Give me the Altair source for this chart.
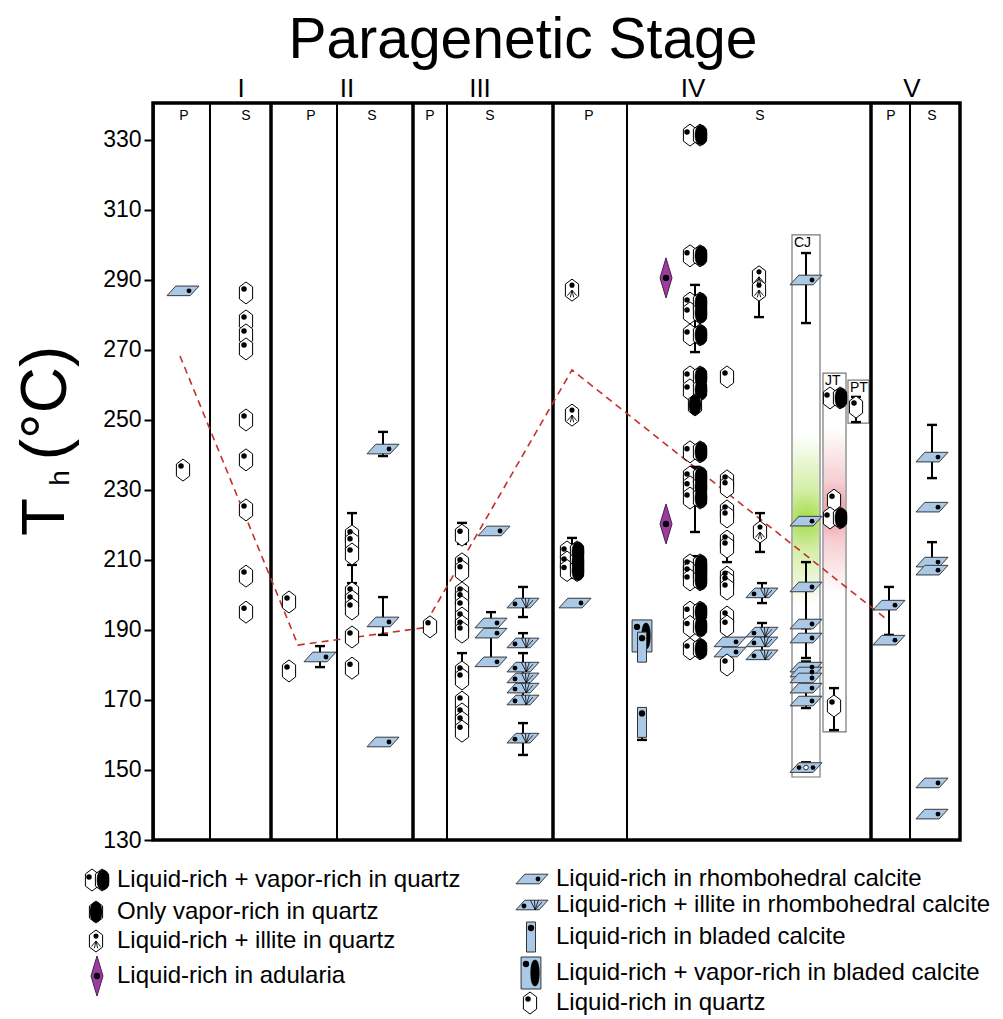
import altair as alt
import pandas as pd

FONT = "Liberation Sans"
X_DOMAIN = [153, 960]
T_DOMAIN = [130, 340.57]

# ---------------- data ----------------
stage_names = ["I", "II", "III", "IV", "V"]
stage_x = [241, 347, 480, 693, 912]
sub_names = ["P", "S", "P", "S", "P", "S", "P", "S", "P", "S"]
sub_x = [184, 246, 311, 372, 430, 490, 589, 760, 891, 932]
stage_bounds = [271, 413, 553, 871]
sub_bounds = [210, 337, 447, 627, 910]
y_ticks = [130, 150, 170, 190, 210, 230, 250, 270, 290, 310, 330]

# Liquid-rich in quartz
hexliq_x = [183] + [246] * 9 + [289] * 2 + [352] * 8 + [430] + [462] * 15 + [727] * 13 + [834, 834, 856]
hexliq_t = [235.7,
            286.3, 278.3, 274.3, 270.3, 250.0, 238.6, 224.3, 205.4, 195.1,
            198.0, 178.3,
            216.9, 214.9, 211.7, 200.6, 198.3, 196.0, 188.0, 179.1,
            190.9,
            217.1, 208.9, 206.9, 200.6, 198.9, 196.6, 193.4, 191.1, 189.4, 178.0, 176.0, 169.4, 166.0, 163.7, 161.1,
            262.3, 232.6, 230.9, 224.0, 222.3, 215.4, 213.7, 205.1, 203.7, 201.7, 193.7, 191.1, 180.0,
            227.1, 168.3, 253.7]

# Liquid-rich + illite in quartz
hexill_x = [572, 572, 759, 759, 760]
hexill_t = [287.1, 251.4, 290.9, 287.1, 218.0]

# Liquid-rich + vapor-rich in quartz
pair_x = [572] * 3 + [695] * 17 + [835, 835]
pair_t = [212.3, 209.4, 207.0,
          331.4, 296.9, 283.4, 280.6, 274.3, 262.3, 258.6, 240.9, 233.7, 230.9, 227.7,
          208.6, 206.6, 204.3, 195.1, 191.0, 184.6,
          256.3, 222.0]

# Only vapor-rich in quartz
vap_x = [695]
vap_t = [254.3]

# Liquid-rich in rhombohedral calcite
par_x = [183, 320, 383, 383, 383, 494, 491, 491, 491, 575, 730, 730] + [806] * 10 + [889, 889] + [932] * 6
par_t = [286.9, 182.3, 241.7, 192.3, 158.0, 218.3, 192.0, 189.1, 180.9, 197.7, 186.6, 183.7,
         290.0, 221.1, 202.3, 191.7, 187.7, 179.4, 178.0, 176.3, 173.4, 169.7,
         197.1, 187.1,
         239.4, 225.1, 209.4, 207.1, 146.3, 137.4]
partri_x = [806]
partri_t = [150.7]

# Liquid-rich + illite in rhombohedral calcite
parill_x = [523] * 7 + [762] * 4
parill_t = [197.7, 186.3, 179.4, 176.3, 173.4, 170.0, 159.1, 200.6, 189.4, 186.6, 182.9]

# Liquid-rich in adularia
adu_x = [666, 666]
adu_t = [290.6, 220.3]

# bladed calcite
bladepair_x = [642]
bladepair_t = [188.3]
bladeliq_x = [642, 642]
bladeliq_t = [185.1, 163.6]

# error bars
err_x = [320, 383, 383, 352, 352, 462, 462, 491, 523, 523, 523, 523, 572, 695, 695, 695, 727,
         759, 760, 762, 762, 806, 806, 806, 806, 806, 834, 856, 889, 932, 932, 642]
err_lo = [179.4, 239.7, 188.6, 216.9, 203.4, 214.6, 176.0, 180.9, 193.7, 186.3, 170.0, 154.3, 204.9,
          269.4, 218.0, 204.3, 209.4, 279.4, 212.3, 197.7, 182.9, 277.7, 192.0, 182.0, 167.7, 149.5,
          161.4, 249.4, 188.6, 233.4, 207.1, 158.6]
err_hi = [185.4, 246.6, 199.4, 223.4, 208.6, 220.6, 183.4, 195.1, 202.3, 189.1, 183.4, 163.4, 216.3,
          288.6, 236.6, 211.1, 213.7, 290.9, 223.4, 203.4, 192.0, 297.7, 209.4, 190.5, 181.0, 152.2,
          173.4, 256.6, 202.3, 248.6, 215.1, 163.6]

# trend of mean Th
trend_x = [180, 298, 423, 572, 890]
trend_t = [268.3, 185.7, 190.6, 264.3, 192.3]

# vein boxes
box_names = ["CJ", "JT", "PT"]
box_x1 = [792, 823, 848]
box_x2 = [820, 846, 869]
box_lo = [148.0, 160.9, 249.1]
box_hi = [302.9, 263.4, 261.4]

# legend
legL_labels = ["Liquid-rich + vapor-rich in quartz", "Only vapor-rich in quartz",
               "Liquid-rich + illite in quartz", "Liquid-rich in adularia"]
legR_labels = ["Liquid-rich in rhombohedral calcite", "Liquid-rich + illite in rhombohedral calcite",
               "Liquid-rich in bladed calcite", "Liquid-rich + vapor-rich in bladed calcite",
               "Liquid-rich  in quartz"]


# ---------------- layout helpers ----------------
def ty(py):
    """page pixel row -> temperature scale value (for the legend rows)"""
    return 130 + (840 - py) / 3.5


legL_rows = [ty(v) for v in [880, 912, 941, 976]]
legR_rows = [ty(v) for v in [879, 905, 937, 973, 1003]]
LEG_L_SYM, LEG_L_TXT = 97, 117
LEG_R_SYM, LEG_R_TXT = 532, 556

X = alt.X("x:Q", scale=alt.Scale(domain=X_DOMAIN, nice=False, zero=False), axis=None)
Y = alt.Y("t:Q", scale=alt.Scale(domain=T_DOMAIN, nice=False, zero=False),
          axis=alt.Axis(values=y_ticks, title=None, grid=False, labelFontSize=23, labelFont=FONT,
                        labelColor="black", tickColor="black", tickSize=9, tickWidth=2,
                        domainColor="black", domainWidth=2.5, labelPadding=3))


def df_xy(xs, ts):
    return pd.DataFrame({"x": xs, "t": ts})


def sym(df, shape, size, fill="white", stroke="black", sw=1.0, dx=0, dy=0, filled=True):
    kw = dict(shape=shape, size=size, strokeWidth=sw, xOffset=dx, yOffset=dy, opacity=1, clip=False)
    if filled:
        kw.update(filled=True, fill=fill)
        if stroke:
            kw.update(stroke=stroke)
        else:
            kw.update(strokeWidth=0)
    else:
        kw.update(filled=False, stroke=stroke)
    return alt.Chart(df).mark_point(**kw).encode(x=X, y=Y)


HEX = "M0,-1L0.6,-0.55L0.6,0.55L0,1L-0.6,0.55L-0.6,-0.55Z"
ELL = "M0,-1C0.45,-1 0.6,-0.5 0.6,0C0.6,0.5 0.45,1 0,1C-0.45,1 -0.6,0.5 -0.6,0C-0.6,-0.5 -0.45,-1 0,-1Z"
FAN_HEX = "M0,0L-0.42,0.5M0,0L-0.15,0.65M0,0L0.15,0.65M0,0L0.42,0.5"
PAR = "M-1,0.3L-0.45,-0.3L1,-0.3L0.45,0.3Z"
FAN_PAR = "M0.2,0.3L-0.1,-0.3M0.2,0.3L0.15,-0.3M0.2,0.3L0.4,-0.3M0.2,0.3L0.62,-0.18"
DIA = "M0,-1L0.3,0L0,1L-0.3,0Z"
RECT_N = "M-0.3,-1L0.3,-1L0.3,1L-0.3,1Z"
RECT_W = "M-0.62,-1L0.62,-1L0.62,1L-0.62,1Z"
ELL_N = "M0,-1C0.25,-1 0.33,-0.5 0.33,0C0.33,0.5 0.25,1 0,1C-0.25,1 -0.33,0.5 -0.33,0C-0.33,-0.5 -0.25,-1 0,-1Z"
CAP = "M-1,0L1,0"
BLUE = "#a9c9e7"
PURPLE = "#9b3c9e"


def hex_liq(df):
    return [sym(df, HEX, 484), sym(df, "circle", 30, "black", None, dx=-2, dy=-4)]


def hex_ill(df):
    return [sym(df, HEX, 484), sym(df, "circle", 26, "black", None, dy=-5),
            sym(df, FAN_HEX, 484, stroke="black", sw=0.9, filled=False)]


def hex_pair(df):
    return [sym(df, HEX, 484, dx=-5), sym(df, HEX, 484, dx=5),
            sym(df, ELL, 400, "black", "black", 0.5, dx=6),
            sym(df, "circle", 30, "black", None, dx=-8, dy=-3)]


def hex_vap(df):
    return [sym(df, HEX, 484), sym(df, ELL, 400, "black", "black", 0.5)]


def par_liq(df):
    return [sym(df, PAR, 1024, BLUE, "#3a3a3a", 1), sym(df, "circle", 24, "black", None, dx=6)]


def par_ill(df):
    return [sym(df, PAR, 1024, BLUE, "#3a3a3a", 1), sym(df, "circle", 24, "black", None, dx=-8, dy=1),
            sym(df, FAN_PAR, 1024, stroke="black", sw=0.8, filled=False)]


def par_tri(df):
    return [sym(df, PAR, 1024, BLUE, "#3a3a3a", 1),
            sym(df, "circle", 22, "black", None, dx=-7),
            sym(df, "circle", 22, "white", "black", 0.8),
            sym(df, "circle", 22, "black", None, dx=7)]


def adularia(df):
    return [sym(df, DIA, 1600, PURPLE, "#4a1e4c", 1), sym(df, "circle", 40, "black", None)]


def blade_liq(df):
    return [sym(df, RECT_N, 900, BLUE, "#333333", 1), sym(df, "circle", 40, "black", None, dy=-9)]


def blade_pair(df):
    return [sym(df, RECT_W, 1024, BLUE, "#333333", 1), sym(df, "circle", 40, "black", None, dx=-5, dy=-9),
            sym(df, ELL_N, 676, "black", "black", 0.5, dx=4)]


layers = []

# vein boxes with glow
boxes = pd.DataFrame({"name": box_names, "x": box_x1, "x2": box_x2, "t": box_lo, "t2": box_hi})
layers.append(alt.Chart(boxes).mark_rect(fill="white", strokeWidth=0).encode(
    x=X, x2="x2:Q", y=Y, y2="t2:Q"))


def glow(color_mid, color_core, x1, x2, lo, hi):
    g = alt.RadialGradient(gradient="radial",
                           stops=[alt.GradientStop(offset=0, color=color_core),
                                  alt.GradientStop(offset=0.35, color=color_mid),
                                  alt.GradientStop(offset=1, color="#ffffff")],
                           x1=0.5, y1=0.5, r1=0, x2=0.5, y2=0.5, r2=0.5)
    d = pd.DataFrame({"x": [x1], "x2": [x2], "t": [lo], "t2": [hi]})
    return alt.Chart(d).mark_rect(fill=g, strokeWidth=0).encode(x=X, x2="x2:Q", y=Y, y2="t2:Q")


layers.append(glow("#d3eea6", "#a3da45", box_x1[0] + 1, box_x2[0] - 1, 197, 246))
layers.append(glow("#f6cdd2", "#ee939d", box_x1[1] + 1, box_x2[1] - 1, 200, 248))
layers.append(alt.Chart(boxes).mark_rect(fillOpacity=0, stroke="#777777", strokeWidth=1.2).encode(
    x=X, x2="x2:Q", y=Y, y2="t2:Q"))

# column dividers
layers.append(alt.Chart(pd.DataFrame({"x": stage_bounds})).mark_rule(color="black", strokeWidth=3.5).encode(x=X))
layers.append(alt.Chart(pd.DataFrame({"x": sub_bounds})).mark_rule(color="black", strokeWidth=2).encode(x=X))

# trend line
trend = pd.DataFrame({"x": trend_x, "t": trend_t, "i": range(len(trend_x))})
layers.append(alt.Chart(trend).mark_line(color="#c4302b", strokeDash=[7, 5], strokeWidth=1.6).encode(
    x=X, y=Y, order="i:Q"))

# error bars
err = pd.DataFrame({"x": err_x, "t": err_lo, "t2": err_hi})
caps = pd.DataFrame({"x": err_x + err_x, "t": err_lo + err_hi})
layers.append(alt.Chart(err).mark_rule(color="black", strokeWidth=2).encode(x=X, y=Y, y2="t2:Q"))
layers.append(sym(caps, CAP, 100, stroke="black", sw=2.4, filled=False))

# symbols (data + legend entries)
layers += par_liq(df_xy(par_x + [LEG_R_SYM], par_t + [legR_rows[0]]))
layers += par_tri(df_xy(partri_x, partri_t))
layers += par_ill(df_xy(parill_x + [LEG_R_SYM], parill_t + [legR_rows[1]]))
layers += blade_pair(df_xy(bladepair_x + [LEG_R_SYM - 1], bladepair_t + [legR_rows[3]]))
layers += blade_liq(df_xy(bladeliq_x + [LEG_R_SYM - 1], bladeliq_t + [legR_rows[2]]))
layers += hex_liq(df_xy(hexliq_x + [LEG_R_SYM - 2], hexliq_t + [legR_rows[4]]))
layers += hex_ill(df_xy(hexill_x + [LEG_L_SYM - 1], hexill_t + [legL_rows[2]]))
layers += hex_pair(df_xy(pair_x + [LEG_L_SYM], pair_t + [legL_rows[0]]))
layers += hex_vap(df_xy(vap_x + [LEG_L_SYM - 1], vap_t + [legL_rows[1]]))
layers += adularia(df_xy(adu_x + [LEG_L_SYM], adu_t + [legL_rows[3]]))

# box labels
layers.append(alt.Chart(boxes).mark_text(align="left", baseline="middle", dx=2, dy=8, fontSize=14,
                                         font=FONT, color="black").encode(x=X, y=alt.Y("t2:Q"), text="name:N"))

# legend text
leg_txt = pd.DataFrame({"label": legL_labels + legR_labels,
                        "x": [LEG_L_TXT] * len(legL_labels) + [LEG_R_TXT] * len(legR_labels),
                        "t": legL_rows + legR_rows})
layers.append(alt.Chart(leg_txt).mark_text(align="left", baseline="middle", fontSize=24, font=FONT,
                                           color="black", clip=False).encode(x=X, y=Y, text="label:N"))

# stage labels and P/S labels
layers.append(alt.Chart(pd.DataFrame({"name": stage_names, "x": stage_x})).mark_text(
    align="center", baseline="alphabetic", fontSize=26, font=FONT, color="black", clip=False).encode(
    x=X, y=alt.value(-6), text="name:N"))
layers.append(alt.Chart(pd.DataFrame({"name": sub_names, "x": sub_x})).mark_text(
    align="center", baseline="alphabetic", fontSize=14, font=FONT, color="black").encode(
    x=X, y=alt.value(17), text="name:N"))

# title and y-axis title
one = pd.DataFrame({"a": [0]})
layers.append(alt.Chart(one).mark_text(text="Paragenetic Stage", fontSize=57, font=FONT, color="black",
                                       align="center", baseline="alphabetic").encode(
    x=alt.value(370), y=alt.value(-45)))
layers.append(alt.Chart(one).mark_text(text="T", fontSize=62, font=FONT, color="black", angle=270,
                                       align="center", baseline="middle").encode(
    x=alt.value(-108), y=alt.value(414)))
layers.append(alt.Chart(one).mark_text(text="h", fontSize=28, font=FONT, color="black", angle=270,
                                       align="center", baseline="middle").encode(
    x=alt.value(-92), y=alt.value(375)))
layers.append(alt.Chart(one).mark_text(text="(°C)", fontSize=64, font=FONT, color="black", angle=270,
                                       align="center", baseline="middle").encode(
    x=alt.value(-106), y=alt.value(300)))

chart = alt.layer(*layers).properties(
    width=807, height=737,
    autosize=alt.AutoSizeParams(type="none"),
    padding={"left": 145, "top": 95, "right": 35, "bottom": 177},
).configure_view(stroke="black", strokeWidth=3.5).configure_axis(labelFont=FONT)

chart.save("out.html", embed_options={"renderer": "svg", "actions": False})
